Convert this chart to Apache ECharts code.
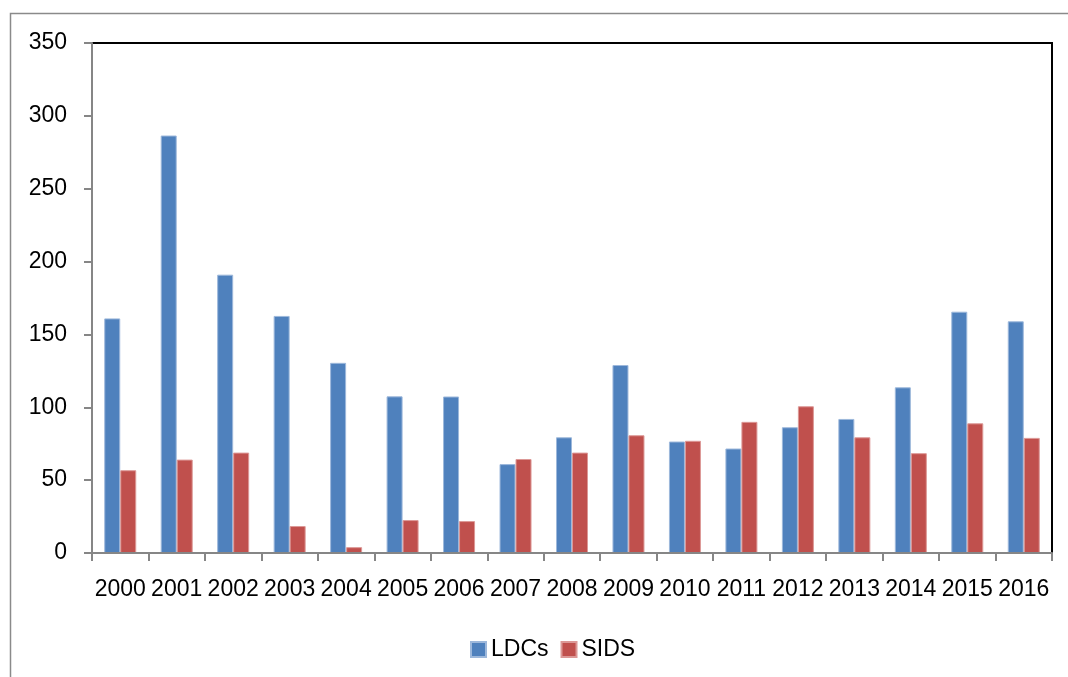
<!DOCTYPE html>
<html>
<head>
<meta charset="utf-8">
<script src="https://cdn.jsdelivr.net/npm/echarts@6/dist/echarts.min.js"></script>
<style>
html,body{margin:0;padding:0;background:#fff;}
#chart{width:1068px;height:677px;}
</style>
</head>
<body>
<div id="chart"></div>
<script>
var categories = ['2000','2001','2002','2003','2004','2005','2006','2007','2008','2009','2010','2011','2012','2013','2014','2015','2016'];
var ldcs = [161, 286.5, 191, 162.7, 130.5, 107.5, 107.4, 61, 79.4, 129, 76.5, 71.7, 86.3, 92, 113.7, 165.6, 159];
var sids = [56.8, 64.1, 68.9, 18.5, 4, 22.6, 21.9, 64.5, 68.9, 80.8, 77, 90, 100.7, 79.4, 68.5, 89, 79];
var yTicks = { min: 0, max: 350, interval: 50 };

var chart = echarts.init(document.getElementById('chart'), null, { renderer: 'canvas' });
var font = 'Liberation Sans';
chart.setOption({
  animation: false,
  backgroundColor: '#fff',
  graphic: [{
    type: 'rect',
    shape: { x: 10.5, y: 13.5, width: 1200, height: 800 },
    style: { fill: 'none', stroke: '#8a8a8a', lineWidth: 1.5 },
    silent: true, z: -1
  }],
  grid: {
    left: 92, right: 16, top: 43, bottom: 124,
    show: true, borderColor: '#000', borderWidth: 2, backgroundColor: 'transparent'
  },
  legend: {
    data: ['LDCs', 'SIDS'],
    top: 633,
    left: 465,
    itemWidth: 15, itemHeight: 15, itemGap: 12,
    icon: 'rect',
    textStyle: { fontFamily: font, fontSize: 23, color: '#000' }
  },
  xAxis: {
    type: 'category',
    data: categories,
    axisLine: { lineStyle: { color: '#868686', width: 2 }, onZero: false },
    axisTick: { show: true, length: 8, alignWithLabel: false, lineStyle: { color: '#868686', width: 2 } },
    axisLabel: { fontFamily: font, fontSize: 23, color: '#000', margin: 25, interval: 0 },
    splitLine: { show: false },
    z: 5
  },
  yAxis: {
    type: 'value',
    min: yTicks.min, max: yTicks.max, interval: yTicks.interval,
    axisLine: { show: true, lineStyle: { color: '#868686', width: 2 } },
    axisTick: { show: true, length: 8, lineStyle: { color: '#868686', width: 2 } },
    axisLabel: { fontFamily: font, fontSize: 23, color: '#000', margin: 25 },
    splitLine: { show: false },
    z: 5
  },
  series: [
    {
      name: 'LDCs', type: 'bar', data: ldcs,
      barWidth: 16, barGap: '0%',
      itemStyle: { color: '#4F81BD', borderColor: '#9DB8DB', borderWidth: 1 }
    },
    {
      name: 'SIDS', type: 'bar', data: sids,
      barWidth: 16, barGap: '0%',
      itemStyle: { color: '#C0504D', borderColor: '#DC9896', borderWidth: 1 }
    }
  ]
});
</script>
</body>
</html>
